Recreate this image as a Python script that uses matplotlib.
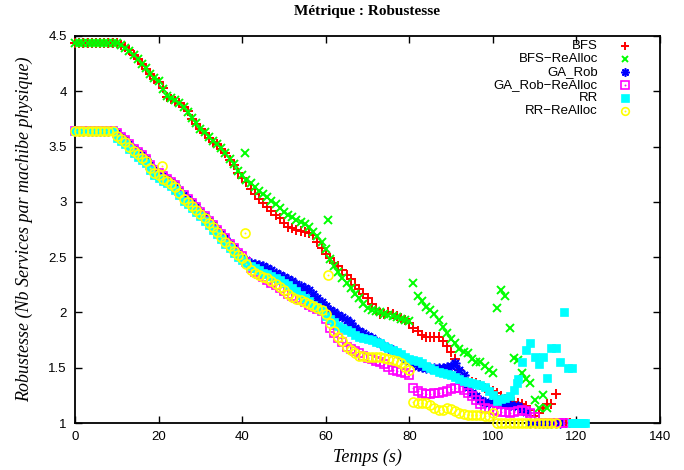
import numpy as np
import matplotlib
matplotlib.use('Agg')
from matplotlib import pyplot as plt
from matplotlib.ticker import FuncFormatter, MultipleLocator

# Robustesse mesurée chaque seconde (t = 0, 1, 2, ...)
bfs = [4.44, 4.44, 4.44, 4.44, 4.44, 4.44, 4.44, 4.44, 4.44, 4.44,
       4.44, 4.42, 4.40, 4.37, 4.33, 4.29, 4.25, 4.20, 4.16, 4.11,
       4.08, 4.03, 3.95, 3.93, 3.91, 3.89, 3.86, 3.82, 3.75, 3.70,
       3.66, 3.62, 3.58, 3.54, 3.52, 3.48, 3.44, 3.38, 3.33, 3.26,
       3.22, 3.18, 3.12, 3.07, 3.03, 2.99, 2.95, 2.92, 2.88, 2.85,
       2.81, 2.77, 2.76, 2.75, 2.74, 2.73, 2.72, 2.70, 2.64, 2.58,
       2.53, 2.49, 2.45, 2.42, 2.38, 2.34, 2.30, 2.25, 2.21, 2.17,
       2.13, 2.08, 2.03, 1.99, 1.99, 2.00, 1.99, 1.97, 1.95, 1.93,
       1.90, 1.86, 1.83, 1.80, 1.78, 1.78, 1.78, 1.78, 1.74, 1.70,
       1.64, 1.58, 1.48, 1.38, 1.37, 1.37, 1.36, 1.34, 1.32, 1.30,
       1.29, 1.27, 1.24, 1.22, 1.20, 1.19, 1.18, 1.17, 1.15, 1.12,
       1.06, 1.09, 1.14, 1.17, 1.17, 1.26]
bfs_extra_t = [111.5, 116.5, 117.5, 118.5]
bfs_extra_v = [1.00, 1.00, 1.00, 1.00]

bfs_realloc = [4.44, 4.44, 4.44, 4.44, 4.44, 4.44, 4.44, 4.44, 4.44, 4.44,
               4.44, 4.42, 4.39, 4.36, 4.33, 4.29, 4.25, 4.21, 4.16, 4.12,
               4.09, 4.02, 3.96, 3.94, 3.92, 3.89, 3.86, 3.81, 3.76, 3.71,
               3.66, 3.63, 3.59, 3.55, 3.52, 3.49, 3.44, 3.39, 3.34, 3.28,
               3.24, 3.20, 3.17, 3.13, 3.10, 3.07, 3.04, 3.01, 2.98, 2.94,
               2.91, 2.88, 2.86, 2.84, 2.82, 2.80, 2.77, 2.73, 2.69, 2.64,
               2.57, 2.48, 2.42, 2.37, 2.31, 2.27, 2.22, 2.17, 2.13, 2.08,
               2.04, 2.02, 2.01, 2.00, 1.99, 1.98, 1.97, 1.96, 1.94, 1.93,
               1.92, 2.27, 2.15, 2.10, 2.05, 2.02, 1.99, 1.93, 1.87, 1.81,
               1.76, 1.72, 1.67, 1.64, 1.63, 1.58, 1.55, 1.55, 1.52, 1.48,
               1.45, 2.04, 2.20, 2.15, 1.86, 1.59, 1.57, 1.45, 1.40, 1.36,
               1.21, 1.14, 1.25, 1.14]
bfs_realloc_extra_t = [40.7, 60.5]
bfs_realloc_extra_v = [3.44, 2.84]

ga_rob = [3.64, 3.64, 3.64, 3.64, 3.64, 3.64, 3.64, 3.64, 3.64, 3.64,
          3.62, 3.59, 3.56, 3.52, 3.48, 3.45, 3.42, 3.39, 3.33, 3.29,
          3.26, 3.23, 3.21, 3.18, 3.15, 3.10, 3.06, 3.03, 2.99, 2.95,
          2.91, 2.87, 2.83, 2.79, 2.75, 2.71, 2.67, 2.62, 2.58, 2.54,
          2.50, 2.47, 2.45, 2.44, 2.43, 2.42, 2.40, 2.38, 2.36, 2.34,
          2.32, 2.30, 2.28, 2.26, 2.24, 2.22, 2.20, 2.17, 2.13, 2.09,
          2.06, 2.02, 2.00, 1.98, 1.96, 1.93, 1.90, 1.86, 1.83, 1.81,
          1.79, 1.77, 1.74, 1.72, 1.70, 1.68, 1.66, 1.63, 1.61, 1.58,
          1.56, 1.54, 1.52, 1.51, 1.50, 1.50, 1.50, 1.50, 1.50, 1.51,
          1.52, 1.54, 1.48, 1.43, 1.33, 1.27, 1.24, 1.21, 1.19, 1.18,
          1.18, 1.18, 1.17, 1.17, 1.16, 1.15, 1.15, 1.13, 1.10, 1.00,
          1.00, 1.00, 1.00, 1.00, 1.00, 1.00, 1.00]

ga_rob_realloc = [3.64, 3.64, 3.64, 3.64, 3.64, 3.64, 3.64, 3.64, 3.64, 3.64,
                  3.62, 3.59, 3.56, 3.52, 3.48, 3.45, 3.42, 3.39, 3.33, 3.29,
                  3.26, 3.23, 3.21, 3.18, 3.15, 3.10, 3.06, 3.03, 2.99, 2.95,
                  2.91, 2.87, 2.83, 2.79, 2.75, 2.71, 2.67, 2.62, 2.58, 2.54,
                  2.51, 2.46, 2.40, 2.37, 2.35, 2.32, 2.29, 2.27, 2.25, 2.22,
                  2.19, 2.17, 2.15, 2.13, 2.11, 2.09, 2.07, 2.05, 2.03, 2.01,
                  1.94, 1.86, 1.81, 1.77, 1.73, 1.69, 1.67, 1.65, 1.63, 1.61,
                  1.59, 1.58, 1.56, 1.55, 1.53, 1.51, 1.48, 1.47, 1.46, 1.45,
                  1.43, 1.32, 1.29, 1.27, 1.26, 1.26, 1.27, 1.27, 1.28, 1.29,
                  1.31, 1.32, 1.32, 1.30, 1.27, 1.24, 1.21, 1.17, 1.14, 1.13,
                  1.12, 1.11, 1.10, 1.10, 1.09, 1.10, 1.11, 1.12, 1.11, 1.09,
                  1.05, 1.00, 1.00, 1.00, 1.00, 1.00, 1.00, 1.00]

rr = [3.64, 3.64, 3.64, 3.64, 3.64, 3.64, 3.64, 3.64, 3.64, 3.64,
      3.58, 3.55, 3.52, 3.48, 3.44, 3.41, 3.38, 3.35, 3.29, 3.24,
      3.22, 3.19, 3.17, 3.14, 3.11, 3.06, 3.01, 2.98, 2.94, 2.91,
      2.87, 2.83, 2.79, 2.75, 2.71, 2.66, 2.62, 2.58, 2.54, 2.50,
      2.47, 2.45, 2.42, 2.40, 2.38, 2.36, 2.35, 2.33, 2.31, 2.29,
      2.27, 2.25, 2.22, 2.19, 2.16, 2.13, 2.10, 2.07, 2.05, 2.02,
      1.97, 1.94, 1.91, 1.88, 1.86, 1.84, 1.82, 1.80, 1.78, 1.77,
      1.76, 1.75, 1.73, 1.72, 1.70, 1.68, 1.66, 1.64, 1.62, 1.60,
      1.58, 1.57, 1.56, 1.54, 1.52, 1.50, 1.48, 1.46, 1.45, 1.44,
      1.43, 1.42, 1.40, 1.38, 1.37, 1.36, 1.35, 1.34, 1.33, 1.29,
      1.25, 1.20, 1.22, 1.23, 1.24, 1.30, 1.40, 1.55, 1.66, 1.72,
      1.60, 1.53, 1.60, 1.41, 1.68, 1.68, 1.55, 2.00, 1.50, 1.00,
      1.00, 1.00, 1.00]
rr_extra_t = [118.9, 105.7, 119.5, 120.5, 121.5]
rr_extra_v = [1.50, 1.36, 1.00, 1.00, 1.00]

rr_realloc = [3.64, 3.64, 3.64, 3.64, 3.64, 3.64, 3.64, 3.64, 3.64, 3.64,
              3.60, 3.57, 3.54, 3.50, 3.46, 3.43, 3.40, 3.37, 3.31, 3.26,
              3.24, 3.21, 3.19, 3.16, 3.13, 3.08, 3.03, 3.00, 2.96, 2.93,
              2.89, 2.85, 2.81, 2.77, 2.73, 2.68, 2.64, 2.60, 2.56, 2.52,
              2.49, 2.44, 2.38, 2.36, 2.34, 2.32, 2.31, 2.28, 2.26, 2.23,
              2.20, 2.17, 2.14, 2.12, 2.11, 2.09, 2.08, 2.06, 2.04, 2.02,
              1.99, 1.90, 1.83, 1.78, 1.74, 1.69, 1.66, 1.63, 1.61, 1.61,
              1.60, 1.60, 1.60, 1.60, 1.59, 1.58, 1.57, 1.56, 1.54, 1.51,
              1.48, 1.19, 1.18, 1.18, 1.18, 1.16, 1.14, 1.12, 1.12, 1.14,
              1.13, 1.11, 1.09, 1.08, 1.07, 1.07, 1.07, 1.07, 1.06, 1.06,
              1.09, 1.00, 1.00, 1.00, 1.00, 1.00, 1.00, 1.00, 1.00, 1.00,
              1.00, 1.00, 1.00, 1.00, 1.00, 1.00]
rr_realloc_extra_t = [20.8, 40.7, 60.5]
rr_realloc_extra_v = [3.32, 2.72, 2.34]

labels = ['BFS', 'BFS\u2212ReAlloc', 'GA_Rob', 'GA_Rob\u2212ReAlloc', 'RR', 'RR\u2212ReAlloc']

fig = plt.figure(figsize=(6.84, 4.70), dpi=100)
ax = fig.add_axes([75 / 684, 1 - 423 / 470, 585 / 684, 387 / 470])

# style gnuplot : un type de point par série
styles = [
    dict(marker='+', color='#ff0000', ms=7, mew=1.4, mfc='none', dot=False),
    dict(marker='x', color='#00ff00', ms=6, mew=1.4, mfc='none', dot=False),
    dict(marker=(8, 2, 0), color='#0000ff', ms=7, mew=1.2, mfc='none', dot=False),
    dict(marker='s', color='#ff00ff', ms=6.3, mew=1.2, mfc='none', dot=True),
    dict(marker='s', color='#00ffff', ms=6.3, mew=0.5, mfc='#00ffff', dot=False),
    dict(marker='o', color='#ffff00', ms=6.5, mew=1.2, mfc='none', dot=True),
]

series = [
    (bfs, bfs_extra_t, bfs_extra_v),
    (bfs_realloc, bfs_realloc_extra_t, bfs_realloc_extra_v),
    (ga_rob, [], []),
    (ga_rob_realloc, [], []),
    (rr, rr_extra_t, rr_extra_v),
    (rr_realloc, rr_realloc_extra_t, rr_realloc_extra_v),
]

for (vals, ext, exv), st in zip(series, styles):
    t = np.concatenate([np.arange(len(vals)), ext])
    v = np.concatenate([vals, exv])
    ax.plot(t, v, ls='none', marker=st['marker'], ms=st['ms'], mew=st['mew'],
            mec=st['color'], mfc=st['mfc'], clip_on=False, zorder=3)
    if st['dot']:
        ax.plot(t, v, ls='none', marker='o', ms=1.4, mew=0, mfc=st['color'],
                clip_on=False, zorder=3)

ax.set_xlim(0, 140)
ax.set_ylim(1, 4.5)
ax.xaxis.set_major_locator(MultipleLocator(20))
ax.yaxis.set_major_locator(MultipleLocator(0.5))
ax.yaxis.set_major_formatter(FuncFormatter(lambda y, p: '%g' % y))
ax.tick_params(direction='in', length=5, width=1, top=True, right=True,
               labelsize=9.5, pad=6)
for lab in ax.get_xticklabels() + ax.get_yticklabels():
    lab.set_family('Liberation Sans')
for sp in ax.spines.values():
    sp.set_linewidth(1.3)

ax.set_title('Métrique : Robustesse', family='Liberation Serif', weight='bold',
             fontsize=11, pad=15)
ax.set_xlabel('Temps (s)', family='Liberation Serif', style='italic', fontsize=13,
              labelpad=4)
ax.set_ylabel('Robustesse (Nb Services par machibe physique)', family='Liberation Serif',
              style='italic', fontsize=13, labelpad=11)

# légende façon gnuplot : texte aligné à droite, symbole à droite
y0 = (423 - 45.7) / 387
dy = 13.1 / 387
for i, (lab, st) in enumerate(zip(labels, styles)):
    yy = y0 - i * dy
    ax.text(0.894, yy, lab, transform=ax.transAxes, ha='right', va='center',
            family='Liberation Sans', fontsize=9.5)
    ax.plot([0.940], [yy], transform=ax.transAxes, ls='none', marker=st['marker'],
            ms=st['ms'] - 1, mew=st['mew'], mec=st['color'], mfc=st['mfc'], clip_on=False)
    if st['dot']:
        ax.plot([0.940], [yy], transform=ax.transAxes, ls='none', marker='o', ms=1.4,
                mew=0, mfc=st['color'], clip_on=False)

plt.savefig('out.png', dpi=100)
